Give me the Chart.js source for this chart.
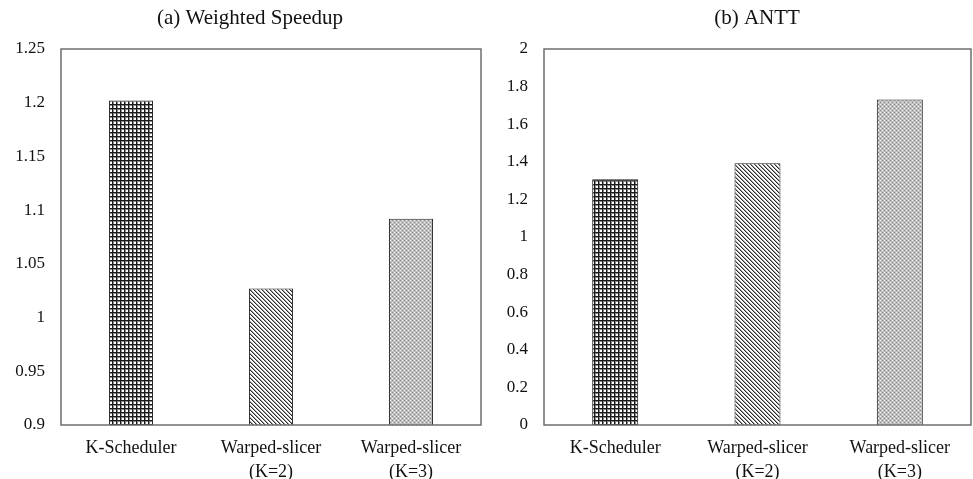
<!DOCTYPE html>
<html>
<head>
<meta charset="utf-8">
<script src="https://cdn.jsdelivr.net/npm/chart.js@4/dist/chart.umd.min.js"></script>
<style>
  html, body { margin: 0; padding: 0; background: #fff; }
  #wrapA { position: absolute; left: 0; top: 0; width: 490px; height: 479px; }
  #wrapB { position: absolute; left: 490px; top: 0; width: 483px; height: 479px; }
</style>
</head>
<body>
<div id="wrapA"><canvas id="chartA" width="490" height="479"></canvas></div>
<div id="wrapB"><canvas id="chartB" width="483" height="479"></canvas></div>
<script>
// Schedulers compared in both panels
const categories = ['K-Scheduler', ['Warped-slicer', '(K=2)'], ['Warped-slicer', '(K=3)']];

// (a) Weighted Speedup
const speedupValues = [1.202, 1.027, 1.092];
const speedupTickValues = [0.9, 0.95, 1, 1.05, 1.1, 1.15, 1.2, 1.25];
const speedupTickLabels = ['0.9', '0.95', '1', '1.05', '1.1', '1.15', '1.2', '1.25'];

// (b) ANTT
const anttValues = [1.307, 1.392, 1.732];
const anttTickValues = [0, 0.2, 0.4, 0.6, 0.8, 1, 1.2, 1.4, 1.6, 1.8, 2];
const anttTickLabels = ['0', '0.2', '0.4', '0.6', '0.8', '1', '1.2', '1.4', '1.6', '1.8', '2'];

const titles = ['(a) Weighted Speedup', '(b) ANTT'];

const FONT = '"Liberation Serif", "Times New Roman", serif';

// --- hatch fills -------------------------------------------------------
function makeTile(size, draw) {
  const c = document.createElement('canvas');
  c.width = size; c.height = size;
  const g = c.getContext('2d');
  g.fillStyle = '#fff';
  g.fillRect(0, 0, size, size);
  draw(g);
  return document.createElement('canvas').getContext('2d').createPattern(c, 'repeat');
}
const gridFill = makeTile(4, g => {
  g.fillStyle = '#8a8a8a';
  g.fillRect(0, 1, 4, 1);
  g.fillRect(1, 0, 1, 4);
  g.fillStyle = '#1a1a1a';
  g.fillRect(0, 0, 4, 1);
  g.fillRect(0, 0, 1, 4);
});
const diagFill = makeTile(4, g => {
  for (let i = 0; i < 4; i++) {
    g.fillStyle = '#2a2a2a';
    g.fillRect(i, i, 1, 1);
    g.fillStyle = '#a0a0a0';
    g.fillRect((i + 1) % 4, i, 1, 1);
  }
});
const dotFill = makeTile(4, g => {
  g.fillStyle = '#c0c0c0';
  g.fillRect(0, 0, 4, 4);
  g.fillStyle = '#888';
  g.fillRect(0, 0, 1, 1);
  g.fillRect(2, 2, 1, 1);
  g.fillStyle = '#f0f0f0';
  g.fillRect(2, 0, 1, 1);
  g.fillRect(0, 2, 1, 1);
});
const fills = [gridFill, diagFill, dotFill];

// --- frame around the plot area and panel title -----------------------
const framePlugin = {
  id: 'frame',
  afterDatasetsDraw(chart, args, opts) {
    const a = chart.chartArea;
    const ctx = chart.ctx;
    ctx.save();
    ctx.strokeStyle = '#6e6e6e';
    ctx.lineWidth = 1.5;
    ctx.strokeRect(a.left, a.top, a.right - a.left, a.bottom - a.top);
    ctx.restore();
  },
  afterDraw(chart, args, opts) {
    const ctx = chart.ctx;
    ctx.save();
    ctx.font = '21px ' + FONT;
    ctx.fillStyle = '#111';
    ctx.textAlign = 'center';
    ctx.textBaseline = 'middle';
    ctx.fillText(opts.text, opts.x, opts.y);
    ctx.restore();
  }
};

function buildChart(id, values, tickValues, tickLabels, title, cfg) {
  return new Chart(document.getElementById(id), {
    type: 'bar',
    data: {
      labels: categories,
      datasets: [{
        data: values,
        backgroundColor: fills,
        borderColor: '#222',
        borderWidth: 1,
        borderSkipped: 'start',
        categoryPercentage: 1,
        barPercentage: cfg.barPct
      }]
    },
    options: {
      responsive: false,
      animation: false,
      layout: { padding: { top: 49, right: cfg.padRight, bottom: 0, left: 0 } },
      plugins: {
        legend: { display: false },
        tooltip: { enabled: false },
        title: { display: false },
        frame: { text: title, x: cfg.titleX, y: 18 }
      },
      scales: {
        x: {
          grid: { display: false, drawTicks: false },
          border: { display: false },
          ticks: {
            color: '#111',
            padding: 12,
            maxRotation: 0,
            font: { family: FONT, size: 18, lineHeight: 1.3 }
          },
          afterFit(s) { s.height = 54; }
        },
        y: {
          min: tickValues[0],
          max: tickValues[tickValues.length - 1],
          grid: { display: false, drawTicks: false },
          border: { display: false },
          afterBuildTicks(s) { s.ticks = tickValues.map(v => ({ value: v })); },
          ticks: {
            color: '#111',
            padding: 16,
            font: { family: FONT, size: 17 },
            callback(v) {
              const i = tickValues.findIndex(t => Math.abs(t - v) < 1e-9);
              return i >= 0 ? tickLabels[i] : '';
            }
          },
          afterFit(s) { s.width = cfg.yWidth; }
        }
      }
    },
    plugins: [framePlugin]
  });
}

buildChart('chartA', speedupValues, speedupTickValues, speedupTickLabels, titles[0],
  { barPct: 0.315, padRight: 9, yWidth: 61, titleX: 250 });
buildChart('chartB', anttValues, anttTickValues, anttTickLabels, titles[1],
  { barPct: 0.323, padRight: 2, yWidth: 54, titleX: 267 });
</script>
</body>
</html>
